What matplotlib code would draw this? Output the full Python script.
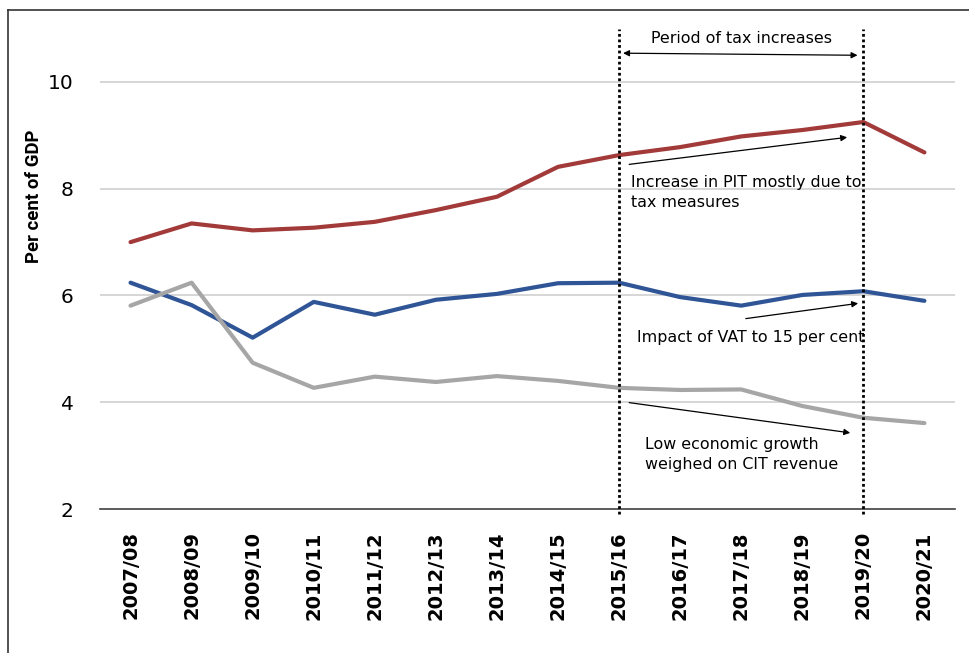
import matplotlib.pyplot as plt
from matplotlib.lines import Line2D

# fiscal years on the x axis
years = ['2007/08', '2008/09', '2009/10', '2010/11', '2011/12', '2012/13', '2013/14',
         '2014/15', '2015/16', '2016/17', '2017/18', '2018/19', '2019/20', '2020/21']

# revenue as per cent of GDP
pit = [7.00, 7.35, 7.22, 7.27, 7.38, 7.60, 7.85, 8.41, 8.63, 8.78, 8.98, 9.10, 9.25, 8.68]
vat = [6.24, 5.82, 5.21, 5.88, 5.64, 5.92, 6.03, 6.23, 6.24, 5.97, 5.81, 6.01, 6.08, 5.90]
cit = [5.81, 6.24, 4.74, 4.27, 4.48, 4.38, 4.49, 4.40, 4.27, 4.23, 4.24, 3.93, 3.71, 3.61]

yticks = [2, 4, 6, 8, 10]

fig = plt.figure(figsize=(9.69, 6.53), dpi=100)
ax = fig.add_axes([0.1032, 0.2205, 0.8823, 0.7357])

x = range(len(years))
ax.plot(x, pit, color='#A33A3A', lw=3, solid_capstyle='round', zorder=3)
ax.plot(x, vat, color='#2F5597', lw=3, solid_capstyle='round', zorder=3)
ax.plot(x, cit, color='#A6A6A6', lw=3, solid_capstyle='round', zorder=3)

ax.set_xlim(-0.5, 13.5)
ax.set_ylim(2, 11)
ax.set_yticks(yticks)
ax.set_yticklabels([str(v) for v in yticks], fontsize=14.5)
ax.set_xticks(list(x))
ax.set_xticklabels(years, rotation=90, fontsize=14, fontweight='bold')
ax.tick_params(axis='x', length=0, pad=16)
ax.tick_params(axis='y', length=0, pad=19)
for v in yticks[1:]:
    ax.axhline(v, color='#D0D0D0', lw=1.2, zorder=1)
for s in ['top', 'right', 'left']:
    ax.spines[s].set_visible(False)
ax.spines['bottom'].set_color('#404040')
ax.spines['bottom'].set_linewidth(1.2)
ax.set_ylabel('Per cent of GDP', fontsize=13.4, fontweight='bold',
              family=['Roboto', 'DejaVu Sans'])
ax.yaxis.set_label_coords(-0.0667, 0.651)

# period of tax increases
for xv in [8, 12]:
    ax.plot([xv, xv], [1.9, 11], color='black', lw=2, ls=(0, (1, 1)), clip_on=False, zorder=4)
ax.annotate('', xy=(8.02, 10.54), xytext=(11.95, 10.50),
            arrowprops=dict(arrowstyle='<|-|>', color='black', lw=0.9, mutation_scale=9))
ax.text(10.0, 10.82, 'Period of tax increases', ha='center', va='center', fontsize=11.4)

arrow = dict(arrowstyle='-|>', color='black', lw=0.9, mutation_scale=9)
ax.annotate('', xy=(11.78, 8.97), xytext=(8.12, 8.45), arrowprops=arrow)
ax.text(8.2, 8.25, 'Increase in PIT mostly due to\ntax measures', ha='left', va='top',
        fontsize=11.4, linespacing=1.35)

ax.annotate('', xy=(11.96, 5.86), xytext=(10.03, 5.56), arrowprops=arrow)
ax.text(8.29, 5.21, 'Impact of VAT to 15 per cent', ha='left', va='center', fontsize=11.4)

ax.annotate('', xy=(11.83, 3.42), xytext=(8.12, 4.00), arrowprops=arrow)
ax.text(8.43, 3.34, 'Low economic growth\nweighed on CIT revenue', ha='left', va='top',
        fontsize=11.4, linespacing=1.35)

# outer frame
fig.add_artist(Line2D([0.0083, 0.0083], [0, 0.985], color='#333333', lw=1.2))
fig.add_artist(Line2D([0.0083, 1.0], [0.985, 0.985], color='#333333', lw=1.2))

fig.savefig('out.png', dpi=100)
